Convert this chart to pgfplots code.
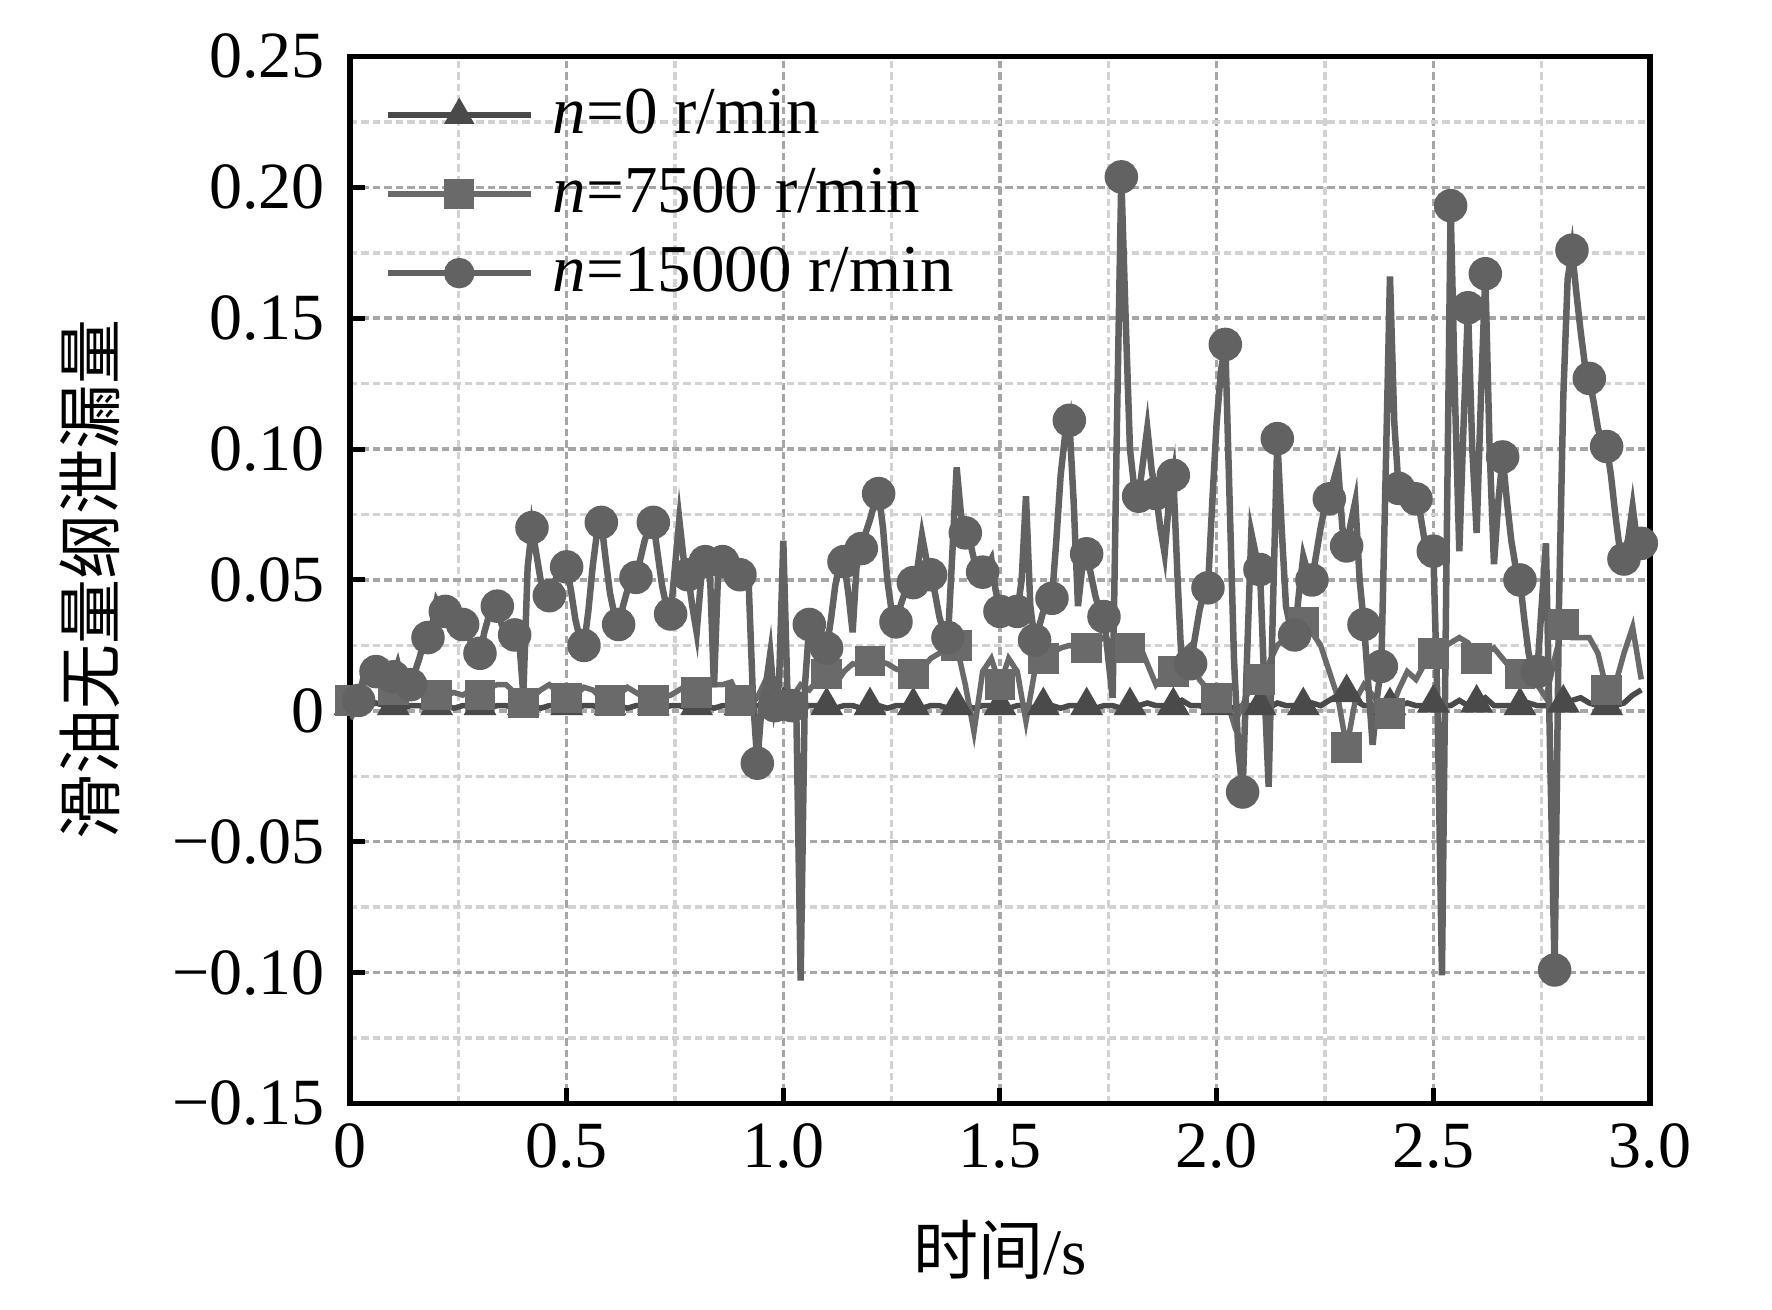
\documentclass[border=0pt]{standalone}
\usepackage{pgfplots}
\pgfplotsset{compat=1.18}
\usepackage{fontspec}
\setmainfont{Liberation Serif}
\newfontfamily\cjk{Noto Sans CJK SC}
\definecolor{cA}{HTML}{4A4A4A}
\definecolor{cB}{HTML}{6A6A6A}
\definecolor{cC}{HTML}{626262}
\begin{document}
\begin{tikzpicture}
\begin{axis}[
  name=ax,
  scale only axis,
  width=260pt, height=209.4pt,
  xmin=0, xmax=3, ymin=-0.15, ymax=0.25,
  xtick={0,0.5,1,1.5,2,2.5,3},
  xticklabels={0,0.5,1.0,1.5,2.0,2.5,3.0},
  ytick={-0.15,-0.1,-0.05,0,0.05,0.1,0.15,0.2,0.25},
  yticklabels={−0.15,−0.10,−0.05,0,0.05,0.10,0.15,0.20,0.25},
  minor xtick={0.25,0.75,1.25,1.75,2.25,2.75},
  minor ytick={-0.125,-0.075,-0.025,0.025,0.075,0.125,0.175,0.225},
  grid=both,
  major grid style={draw=gray!70, dash pattern=on 1.5pt off 0.8pt, line width=0.7pt},
  minor grid style={draw=gray!35, dash pattern=on 1.5pt off 0.8pt, line width=0.7pt},
  tick align=inside, tick pos=left,
  major tick length=3pt, minor tick length=0pt,
  every tick/.style={black, line width=1pt},
  axis line style={black, line width=1.1pt},
  tick label style={font=\fontsize{13.2}{15}\selectfont},
  yticklabel style={xshift=-1.5pt},
  xticklabel style={yshift=-0.5pt},
  label style={font=\fontsize{13}{15}\selectfont},
  xlabel={{\cjk 时间}/s},
  ylabel={\cjk 滑油无量纲泄漏量},
  xlabel style={at={(axis description cs:0.5,-0.14)}, anchor=center},
  ylabel style={at={(axis description cs:-0.2,0.5)}, anchor=center},
  legend style={at={(axis description cs:0,1)}, anchor=north west,
    xshift=3.7pt, yshift=-2.3pt, draw=none, fill=none, row sep=1.4pt,
    font=\fontsize{13.4}{15}\selectfont, cells={anchor=west}},
  legend image code/.code={\draw[mark repeat=2,mark phase=2,mark size=2.4pt] plot coordinates {(0pt,0pt) (14.3pt,0pt) (28.6pt,0pt)};\path (30.4pt,0pt);},
]
% n = 0 r/min
\addplot[color=cA, line width=1.1pt, mark=triangle*, mark size=2.7pt, mark repeat=5, mark phase=1, mark options={solid, fill=cA, draw=cA}] coordinates {
(0.00,0.002) (0.02,0.003) (0.04,0.002) (0.06,0.003) (0.08,0.002) (0.10,0.002) (0.12,0.001) (0.14,0.002) (0.16,0.002) (0.18,0.001)
(0.20,0.002) (0.22,0.002) (0.24,0.001) (0.26,0.002) (0.28,0.002) (0.30,0.002) (0.32,0.001) (0.34,0.002) (0.36,0.002) (0.38,0.001)
(0.40,0.002) (0.42,0.002) (0.44,0.001) (0.46,0.002) (0.48,0.002) (0.50,0.002) (0.52,0.001) (0.54,0.002) (0.56,0.002) (0.58,0.001)
(0.60,0.002) (0.62,0.002) (0.64,0.001) (0.66,0.002) (0.68,0.002) (0.70,0.002) (0.72,0.001) (0.74,0.002) (0.76,0.002) (0.78,0.001)
(0.80,0.002) (0.82,0.002) (0.84,0.001) (0.86,0.002) (0.88,0.002) (0.90,0.002) (0.92,0.001) (0.94,0.002) (0.96,0.002) (0.98,0.001)
(1.00,0.002) (1.02,0.002) (1.04,0.001) (1.06,0.002) (1.08,0.002) (1.10,0.002) (1.12,0.001) (1.14,0.002) (1.16,0.002) (1.18,0.001)
(1.20,0.002) (1.22,0.002) (1.24,0.001) (1.26,0.002) (1.28,0.002) (1.30,0.002) (1.32,0.001) (1.34,0.002) (1.36,0.002) (1.38,0.001)
(1.40,0.002) (1.42,0.002) (1.44,0.001) (1.46,0.002) (1.48,0.002) (1.50,0.002) (1.52,0.001) (1.54,0.002) (1.56,0.002) (1.58,0.001)
(1.60,0.002) (1.62,0.002) (1.64,0.001) (1.66,0.002) (1.68,0.002) (1.70,0.002) (1.72,0.001) (1.74,0.002) (1.76,0.002) (1.78,0.001)
(1.80,0.002) (1.82,0.002) (1.84,0.003) (1.86,0.002) (1.88,0.002) (1.90,0.002) (1.92,0.004) (1.94,0.002) (1.96,0.002) (1.98,0.001)
(2.00,0.002) (2.02,0.002) (2.04,0.001) (2.06,0.002) (2.08,0.002) (2.10,0.002) (2.12,0.001) (2.14,0.003) (2.16,0.002) (2.18,0.002)
(2.20,0.002) (2.22,0.003) (2.24,0.002) (2.26,0.004) (2.28,0.006) (2.30,0.007) (2.32,0.004) (2.34,0.002) (2.36,0.002) (2.38,0.001)
(2.40,0.002) (2.42,0.002) (2.44,0.003) (2.46,0.002) (2.48,0.002) (2.50,0.003) (2.52,0.002) (2.54,0.002) (2.56,0.004) (2.58,0.002)
(2.60,0.003) (2.62,0.005) (2.64,0.002) (2.66,0.002) (2.68,0.002) (2.70,0.002) (2.72,0.003) (2.74,0.002) (2.76,0.002) (2.78,0.002)
(2.80,0.003) (2.82,0.004) (2.84,0.005) (2.86,0.003) (2.88,0.002) (2.90,0.002) (2.92,0.002) (2.94,0.003) (2.96,0.006) (2.98,0.008)
};
\addlegendentry{\textit{n}=0 r/min}
% n = 7500 r/min
\addplot[color=cB, line width=1.1pt, mark=square*, mark size=2.5pt, mark repeat=5, mark phase=1, mark options={solid, fill=cB, draw=cB}] coordinates {
(0.00,0.004) (0.02,0.008) (0.04,0.012) (0.06,0.010) (0.08,0.009) (0.10,0.008) (0.12,0.010) (0.14,0.007) (0.16,0.006) (0.18,0.006)
(0.20,0.006) (0.22,0.006) (0.24,0.007) (0.26,0.006) (0.28,0.008) (0.30,0.006) (0.32,0.009) (0.34,0.010) (0.36,0.010) (0.38,0.007)
(0.40,0.003) (0.42,0.005) (0.44,0.008) (0.46,0.010) (0.48,0.007) (0.50,0.005) (0.52,0.006) (0.54,0.009) (0.56,0.008) (0.58,0.005)
(0.60,0.004) (0.62,0.006) (0.64,0.009) (0.66,0.007) (0.68,0.005) (0.70,0.004) (0.72,0.005) (0.74,0.006) (0.76,0.008) (0.78,0.010)
(0.80,0.007) (0.82,0.010) (0.84,0.010) (0.86,0.010) (0.88,0.011) (0.90,0.004) (0.92,0.002) (0.94,0.005) (0.96,0.012) (0.98,0.004)
(1.00,0.002) (1.02,0.005) (1.04,0.010) (1.06,0.008) (1.08,0.012) (1.10,0.014) (1.12,0.010) (1.14,0.015) (1.16,0.018) (1.18,0.017)
(1.20,0.019) (1.22,0.019) (1.24,0.018) (1.26,0.016) (1.28,0.015) (1.30,0.014) (1.32,0.016) (1.34,0.020) (1.36,0.022) (1.38,0.024)
(1.40,0.025) (1.42,0.010) (1.44,-0.008) (1.46,0.015) (1.48,0.020) (1.50,0.010) (1.52,0.020) (1.54,0.015) (1.56,-0.004) (1.58,0.015)
(1.60,0.020) (1.62,0.022) (1.64,0.024) (1.66,0.025) (1.68,0.024) (1.70,0.024) (1.72,0.026) (1.74,0.028) (1.76,0.026) (1.78,0.025)
(1.80,0.024) (1.82,0.026) (1.84,0.018) (1.86,0.010) (1.88,0.014) (1.90,0.015) (1.92,0.022) (1.94,0.025) (1.96,0.012) (1.98,0.008)
(2.00,0.005) (2.02,0.006) (2.04,-0.005) (2.06,0.002) (2.08,0.010) (2.10,0.012) (2.12,0.018) (2.14,0.025) (2.16,0.028) (2.18,0.032)
(2.20,0.034) (2.22,0.030) (2.24,0.025) (2.26,0.015) (2.28,0.005) (2.30,-0.014) (2.32,0.004) (2.34,0.010) (2.36,0.006) (2.38,0.002)
(2.40,-0.001) (2.42,0.008) (2.44,0.015) (2.46,0.012) (2.48,0.018) (2.50,0.022) (2.52,0.024) (2.54,0.026) (2.56,0.028) (2.58,0.026)
(2.60,0.020) (2.62,0.022) (2.64,0.024) (2.66,0.020) (2.68,0.016) (2.70,0.014) (2.72,0.015) (2.74,0.010) (2.76,0.005) (2.78,0.020)
(2.80,0.033) (2.82,0.028) (2.84,0.028) (2.86,0.028) (2.88,0.022) (2.90,0.008) (2.92,0.010) (2.94,0.022) (2.96,0.032) (2.98,0.012)
};
\addlegendentry{\textit{n}=7500 r/min}
% n = 15000 r/min
\addplot[color=cC, line width=1.3pt, mark=*, mark size=2.7pt, mark repeat=4, mark phase=3, mark options={solid, fill=cC, draw=cC}] coordinates {
(0.00,-0.003) (0.01,0.000) (0.02,0.004) (0.03,0.012) (0.04,0.016) (0.05,0.014) (0.06,0.015) (0.07,0.017) (0.08,0.012) (0.09,0.016)
(0.10,0.013) (0.11,0.018) (0.12,0.011) (0.13,0.014) (0.14,0.010) (0.15,0.015) (0.16,0.020) (0.17,0.026) (0.18,0.028) (0.19,0.033)
(0.20,0.042) (0.21,0.039) (0.22,0.038) (0.23,0.036) (0.24,0.035) (0.25,0.034) (0.26,0.033) (0.27,0.030) (0.28,0.026) (0.29,0.023)
(0.30,0.022) (0.31,0.030) (0.32,0.036) (0.33,0.041) (0.34,0.040) (0.35,0.033) (0.36,0.030) (0.37,0.031) (0.38,0.029) (0.39,0.028)
(0.40,0.006) (0.41,0.055) (0.42,0.070) (0.43,0.060) (0.44,0.050) (0.45,0.046) (0.46,0.044) (0.47,0.048) (0.48,0.053) (0.49,0.056)
(0.50,0.055) (0.51,0.046) (0.52,0.035) (0.53,0.028) (0.54,0.025) (0.55,0.038) (0.56,0.055) (0.57,0.068) (0.58,0.072) (0.59,0.058)
(0.60,0.045) (0.61,0.037) (0.62,0.033) (0.63,0.040) (0.64,0.046) (0.65,0.049) (0.66,0.051) (0.67,0.058) (0.68,0.065) (0.69,0.070)
(0.70,0.072) (0.71,0.060) (0.72,0.048) (0.73,0.040) (0.74,0.037) (0.75,0.055) (0.76,0.073) (0.77,0.058) (0.78,0.052) (0.79,0.040)
(0.80,0.030) (0.81,0.050) (0.82,0.057) (0.83,0.056) (0.84,0.009) (0.85,0.055) (0.86,0.057) (0.87,0.056) (0.88,0.056) (0.89,0.054)
(0.90,0.052) (0.91,0.051) (0.92,0.049) (0.93,0.005) (0.94,-0.020) (0.95,0.002) (0.96,0.010) (0.97,0.022) (0.98,0.002) (0.99,0.010)
(1.00,0.065) (1.01,0.004) (1.02,0.002) (1.03,0.000) (1.04,-0.103) (1.05,0.010) (1.06,0.033) (1.07,0.030) (1.08,0.026) (1.09,0.024)
(1.10,0.024) (1.11,0.035) (1.12,0.048) (1.13,0.056) (1.14,0.057) (1.15,0.045) (1.16,0.030) (1.17,0.058) (1.18,0.062) (1.19,0.068)
(1.20,0.073) (1.21,0.079) (1.22,0.083) (1.23,0.070) (1.24,0.050) (1.25,0.038) (1.26,0.034) (1.27,0.040) (1.28,0.045) (1.29,0.047)
(1.30,0.049) (1.31,0.055) (1.32,0.067) (1.33,0.058) (1.34,0.052) (1.35,0.045) (1.36,0.036) (1.37,0.030) (1.38,0.028) (1.39,0.060)
(1.40,0.093) (1.41,0.075) (1.42,0.068) (1.43,0.065) (1.44,0.058) (1.45,0.054) (1.46,0.053) (1.47,0.055) (1.48,0.058) (1.49,0.046)
(1.50,0.038) (1.51,0.037) (1.52,0.038) (1.53,0.039) (1.54,0.038) (1.55,0.050) (1.56,0.082) (1.57,0.040) (1.58,0.027) (1.59,0.032)
(1.60,0.038) (1.61,0.041) (1.62,0.043) (1.63,0.065) (1.64,0.090) (1.65,0.105) (1.66,0.111) (1.67,0.080) (1.68,0.040) (1.69,0.055)
(1.70,0.060) (1.71,0.052) (1.72,0.044) (1.73,0.038) (1.74,0.036) (1.75,0.020) (1.76,0.005) (1.77,0.110) (1.78,0.204) (1.79,0.150)
(1.80,0.100) (1.81,0.085) (1.82,0.082) (1.83,0.095) (1.84,0.108) (1.85,0.092) (1.86,0.083) (1.87,0.070) (1.88,0.060) (1.89,0.080)
(1.90,0.090) (1.91,0.050) (1.92,0.015) (1.93,0.016) (1.94,0.018) (1.95,0.028) (1.96,0.038) (1.97,0.045) (1.98,0.047) (1.99,0.080)
(2.00,0.110) (2.01,0.130) (2.02,0.140) (2.03,0.080) (2.04,0.020) (2.05,-0.015) (2.06,-0.031) (2.07,0.020) (2.08,0.068) (2.09,0.060)
(2.10,0.054) (2.11,0.010) (2.12,-0.029) (2.13,0.040) (2.14,0.104) (2.15,0.070) (2.16,0.040) (2.17,0.032) (2.18,0.029) (2.19,0.045)
(2.20,0.059) (2.21,0.053) (2.22,0.050) (2.23,0.060) (2.24,0.070) (2.25,0.078) (2.26,0.081) (2.27,0.088) (2.28,0.094) (2.29,0.070)
(2.30,0.063) (2.31,0.072) (2.32,0.080) (2.33,0.050) (2.34,0.033) (2.35,0.010) (2.36,-0.013) (2.37,0.005) (2.38,0.017) (2.39,0.090)
(2.40,0.166) (2.41,0.110) (2.42,0.085) (2.43,0.083) (2.44,0.082) (2.45,0.081) (2.46,0.081) (2.47,0.075) (2.48,0.065) (2.49,0.060)
(2.50,0.061) (2.51,0.000) (2.52,-0.101) (2.53,0.050) (2.54,0.193) (2.55,0.120) (2.56,0.061) (2.57,0.110) (2.58,0.154) (2.59,0.100)
(2.60,0.068) (2.61,0.120) (2.62,0.167) (2.63,0.100) (2.64,0.056) (2.65,0.080) (2.66,0.097) (2.67,0.080) (2.68,0.065) (2.69,0.055)
(2.70,0.050) (2.71,0.035) (2.72,0.022) (2.73,0.015) (2.74,0.015) (2.75,0.040) (2.76,0.064) (2.77,-0.020) (2.78,-0.099) (2.79,0.040)
(2.80,0.120) (2.81,0.165) (2.82,0.176) (2.83,0.160) (2.84,0.145) (2.85,0.132) (2.86,0.127) (2.87,0.118) (2.88,0.108) (2.89,0.102)
(2.90,0.101) (2.91,0.090) (2.92,0.075) (2.93,0.062) (2.94,0.058) (2.95,0.066) (2.96,0.078) (2.97,0.065) (2.98,0.064)
};
\addlegendentry{\textit{n}=15000 r/min}
\end{axis}
\pgfresetboundingbox
\path[use as bounding box] (ax.south west) ++(-70pt,-41.2pt) rectangle ++(354.4pt,261.9pt);
\end{tikzpicture}
\end{document}
